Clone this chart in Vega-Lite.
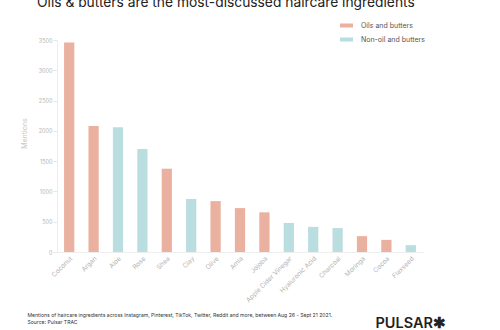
{
  "$schema": "https://vega.github.io/schema/vega-lite/v6.json",
  "width": 366,
  "height": 212,
  "autosize": {"type": "none"},
  "padding": {"left": 57, "top": 40, "right": 77, "bottom": 78},
  "background": "white",
  "config": {
    "font": "Inter",
    "view": {"stroke": null}
  },
  "title": {
    "text": "Oils & butters are the most-discussed haircare ingredients",
    "anchor": "start",
    "frame": "group",
    "dx": -20,
    "dy": 10,
    "fontSize": 13.8,
    "fontWeight": "normal",
    "color": "#222222",
    "font": "Inter",
    "baseline": "alphabetic",
    "offset": 8
  },
  "data": {
    "values": [
      {"ingredient": "Coconut", "mentions": 3460, "type": "Oils and butters"},
      {"ingredient": "Argan", "mentions": 2080, "type": "Oils and butters"},
      {"ingredient": "Aloe", "mentions": 2060, "type": "Non-oil and butters"},
      {"ingredient": "Rose", "mentions": 1700, "type": "Non-oil and butters"},
      {"ingredient": "Shea", "mentions": 1375, "type": "Oils and butters"},
      {"ingredient": "Clay", "mentions": 875, "type": "Non-oil and butters"},
      {"ingredient": "Olive", "mentions": 840, "type": "Oils and butters"},
      {"ingredient": "Amla", "mentions": 725, "type": "Oils and butters"},
      {"ingredient": "Jojoba", "mentions": 655, "type": "Oils and butters"},
      {"ingredient": "Apple Cider Vinegar", "mentions": 480, "type": "Non-oil and butters"},
      {"ingredient": "Hyaluronic Acid", "mentions": 415, "type": "Non-oil and butters"},
      {"ingredient": "Charcoal", "mentions": 395, "type": "Non-oil and butters"},
      {"ingredient": "Moringa", "mentions": 262, "type": "Oils and butters"},
      {"ingredient": "Cocoa", "mentions": 200, "type": "Oils and butters"},
      {"ingredient": "Flaxseed", "mentions": 112, "type": "Non-oil and butters"}
    ]
  },
  "layer": [
    {
      "mark": {"type": "bar"},
      "encoding": {
        "x": {
          "field": "ingredient",
          "type": "nominal",
          "sort": null,
          "scale": {"paddingInner": 0.58, "paddingOuter": 0.29},
          "axis": {
            "labelAngle": -45,
            "labelFontSize": 6.5,
            "labelColor": "#b5b5b5",
            "labelPadding": 3,
            "ticks": false,
            "domainColor": "#eeeeee",
            "title": [
              "Mentions of haircare ingredients across Instagram, Pinterest, TikTok, Twitter, Reddit and more, between Aug 26 - Sept 21 2021.",
              "Source: Pulsar TRAC"
            ],
            "titleFontSize": 5.1,
            "titleFontWeight": "normal",
            "titleColor": "#333333",
            "titleAnchor": "start",
            "titleAlign": "left",
            "titleBaseline": "alphabetic",
            "titleLineHeight": 7,
            "titleX": -30,
            "titleY": 64
          }
        },
        "y": {
          "field": "mentions",
          "type": "quantitative",
          "scale": {"domain": [0, 3500], "nice": false},
          "axis": {
            "values": [0, 500, 1000, 1500, 2000, 2500, 3000, 3500],
            "format": "d",
            "grid": false,
            "labelFontSize": 5.5,
            "labelColor": "#b5b5b5",
            "tickColor": "#e6e6e6",
            "tickSize": 4,
            "labelPadding": 1,
            "domainColor": "#eeeeee",
            "title": "Mentions",
            "titleFontSize": 7,
            "titleFontWeight": "normal",
            "titleColor": "#c8c8c8",
            "titleX": -30,
            "titleY": 93
          }
        },
        "color": {
          "field": "type",
          "type": "nominal",
          "scale": {
            "domain": ["Oils and butters", "Non-oil and butters"],
            "range": ["#eab1a1", "#badde0"]
          },
          "legend": {
            "orient": "none",
            "legendX": 283,
            "legendY": -21,
            "title": null,
            "labelFontSize": 7,
            "labelColor": "#555555",
            "labelOffset": 8,
            "symbolType": "M-1,-0.31H1V0.31H-1Z",
            "symbolSize": 169,
            "symbolStrokeWidth": 0,
            "symbolOpacity": 1,
            "rowPadding": 4
          }
        }
      }
    },
    {
      "mark": {"type": "bar", "opacity": 0},
      "encoding": {
        "x": {"field": "ingredient", "type": "nominal", "sort": null},
        "y": {
          "field": "mentions",
          "type": "quantitative",
          "axis": {
            "orient": "right",
            "labels": false,
            "ticks": false,
            "domain": false,
            "grid": false,
            "title": "PULSAR✱",
            "titleAngle": 0,
            "titleFontSize": 14.5,
            "titleFontWeight": 600,
            "titleColor": "#222222",
            "titleAlign": "left",
            "titleBaseline": "alphabetic",
            "titleX": -48,
            "titleY": 287
          }
        }
      }
    }
  ],
  "resolve": {"scale": {"y": "independent"}}
}
